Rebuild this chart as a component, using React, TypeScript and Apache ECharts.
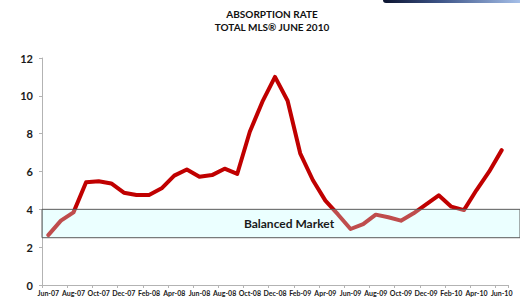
import React, { useEffect, useRef } from "react";
import * as echarts from "echarts";

const months: string[] = [
  "Jun-07", "Jul-07", "Aug-07", "Sep-07", "Oct-07", "Nov-07", "Dec-07", "Jan-08", "Feb-08", "Mar-08",
  "Apr-08", "May-08", "Jun-08", "Jul-08", "Aug-08", "Sep-08", "Oct-08", "Nov-08", "Dec-08", "Jan-09",
  "Feb-09", "Mar-09", "Apr-09", "May-09", "Jun-09", "Jul-09", "Aug-09", "Sep-09", "Oct-09", "Nov-09",
  "Dec-09", "Jan-10", "Feb-10", "Mar-10", "Apr-10", "May-10", "Jun-10",
];

const absorptionRate: number[] = [
  2.64, 3.4, 3.84, 5.43, 5.48, 5.37, 4.88, 4.76, 4.76, 5.11,
  5.78, 6.11, 5.72, 5.81, 6.15, 5.87, 8.1, 9.69, 11.0, 9.74,
  6.96, 5.55, 4.46, 3.73, 2.96, 3.22, 3.72, 3.58, 3.4, 3.79,
  4.26, 4.74, 4.14, 3.96, 5.02, 5.99, 7.13,
];

const balancedLow = 2.5;
const balancedHigh = 4;
const balancedLabel = "Balanced Market";
const titleLines: string[] = ["ABSORPTION RATE", "TOTAL MLS\u00AE JUNE 2010"];

const FONT = "Lato, 'Open Sans', sans-serif";
const GRID_LEFT = 42;

export default function App() {
  const ref = useRef<HTMLDivElement>(null);

  useEffect(() => {
    if (!ref.current) return;
    const chart = echarts.init(ref.current, undefined, { renderer: "svg" });
    chart.setOption({
      animation: false,
      backgroundColor: "#ffffff",
      grid: { left: GRID_LEFT, right: 12, top: 58, bottom: 16, containLabel: false },
      xAxis: {
        type: "category",
        data: months,
        boundaryGap: true,
        axisLine: { show: true, lineStyle: { color: "#b3b3b3", width: 1 } },
        axisTick: { show: true, interval: 1, length: 3, lineStyle: { color: "#b3b3b3" } },
        axisLabel: {
          interval: 1,
          fontSize: 7,
          fontWeight: "bold",
          color: "#1a1a1a",
          fontFamily: FONT,
          margin: 4,
        },
        splitLine: { show: false },
      },
      yAxis: {
        type: "value",
        min: 0,
        max: 12,
        interval: 2,
        axisLine: { show: true, lineStyle: { color: "#b3b3b3", width: 1 } },
        axisTick: { show: true, length: 3, lineStyle: { color: "#b3b3b3" } },
        axisLabel: {
          fontSize: 11,
          fontWeight: "bold",
          color: "#1a1a1a",
          fontFamily: FONT,
          margin: 9,
        },
        splitLine: { show: false },
      },
      series: [
        {
          type: "line",
          data: absorptionRate,
          symbol: "none",
          z: 2,
          lineStyle: { color: "#c00000", width: 4, join: "round", cap: "round" },
        },
      ],
    });

    const yTop = chart.convertToPixel({ yAxisIndex: 0 }, balancedHigh) as number;
    const yBot = chart.convertToPixel({ yAxisIndex: 0 }, balancedLow) as number;
    const yMid = chart.convertToPixel({ yAxisIndex: 0 }, (balancedLow + balancedHigh) / 2) as number;

    chart.setOption({
      graphic: [
        {
          type: "rect",
          z: 100,
          shape: { x: GRID_LEFT, y: yTop, width: 520 - GRID_LEFT, height: yBot - yTop },
          style: { fill: "rgba(188,255,255,0.3)", stroke: "#5a5a5a", lineWidth: 1 },
        },
        {
          type: "text",
          z: 101,
          x: 289,
          y: yMid,
          style: {
            text: balancedLabel,
            textAlign: "center",
            textVerticalAlign: "middle",
            font: `bold 12px ${FONT}`,
            fill: "#1a1a1a",
          },
        },
        {
          type: "text",
          z: 101,
          x: 272,
          y: 14,
          style: {
            text: titleLines[0],
            textAlign: "center",
            textVerticalAlign: "middle",
            font: `bold 10px ${FONT}`,
            fill: "#111111",
          },
        },
        {
          type: "text",
          z: 101,
          x: 272,
          y: 27,
          style: {
            text: titleLines[1],
            textAlign: "center",
            textVerticalAlign: "middle",
            font: `bold 10px ${FONT}`,
            fill: "#111111",
          },
        },
        {
          type: "rect",
          z: 101,
          shape: { x: 383, y: -3, width: 140, height: 6, r: 3 },
          style: {
            fill: new echarts.graphic.LinearGradient(0, 0, 1, 0, [
              { offset: 0, color: "#0c1430" },
              { offset: 0.4, color: "#3c5386" },
              { offset: 1, color: "#a9c3ec" },
            ]),
          },
        },
      ],
    });

    return () => chart.dispose();
  }, []);

  return (
    <div
      ref={ref}
      style={{ position: "fixed", left: 0, top: 0, width: 520, height: 301 }}
    />
  );
}
